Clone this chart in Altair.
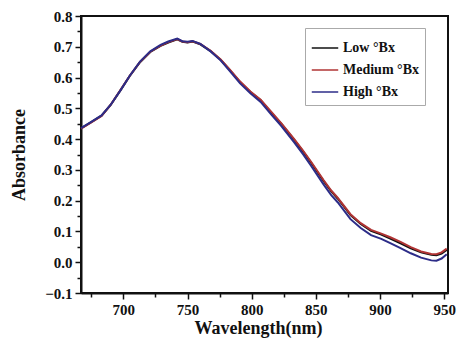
import altair as alt
import pandas as pd

wavelength = [667, 675, 683, 690, 698, 705, 713, 721, 729, 735, 742, 746, 750, 754, 760, 768,
              776, 783, 791, 799, 807, 815, 823, 833, 840, 846, 856, 862, 867, 877, 885, 893,
              901, 908, 916, 924, 932, 940, 944, 948, 952]
low = [0.435, 0.455, 0.476, 0.51, 0.56, 0.605, 0.65, 0.683, 0.703, 0.714, 0.724, 0.716, 0.714,
       0.717, 0.708, 0.686, 0.657, 0.624, 0.585, 0.553, 0.526, 0.487, 0.45, 0.398, 0.36, 0.325,
       0.264, 0.23, 0.207, 0.153, 0.124, 0.102, 0.09, 0.077, 0.061, 0.045, 0.032, 0.024, 0.023,
       0.028, 0.04]
medium = [0.434, 0.454, 0.475, 0.511, 0.561, 0.606, 0.651, 0.684, 0.704, 0.715, 0.725, 0.717,
          0.715, 0.718, 0.709, 0.687, 0.658, 0.626, 0.587, 0.555, 0.528, 0.49, 0.452, 0.401,
          0.363, 0.328, 0.267, 0.233, 0.21, 0.156, 0.127, 0.105, 0.093, 0.081, 0.066, 0.049,
          0.035, 0.027, 0.026, 0.032, 0.044]
high = [0.436, 0.456, 0.477, 0.511, 0.56, 0.606, 0.652, 0.685, 0.706, 0.717, 0.727, 0.718, 0.716,
        0.719, 0.709, 0.685, 0.655, 0.621, 0.581, 0.549, 0.521, 0.481, 0.443, 0.39, 0.351, 0.315,
        0.253, 0.218, 0.195, 0.14, 0.111, 0.088, 0.076, 0.062, 0.046, 0.029, 0.015, 0.006, 0.005,
        0.012, 0.026]

series_names = ["Low \u00b0Bx", "Medium \u00b0Bx", "High \u00b0Bx"]
series_colors = ["#111111", "#b03434", "#2c2c88"]
x_ticks = [675, 700, 725, 750, 775, 800, 825, 850, 875, 900, 925, 950]
y_ticks = [-0.1, -0.05, 0.0, 0.05, 0.1, 0.15, 0.2, 0.25, 0.3, 0.35, 0.4, 0.45, 0.5, 0.55,
           0.6, 0.65, 0.7, 0.75, 0.8]

rows = []
for name, vals in zip(series_names, [low, medium, high]):
    for i, (w, v) in enumerate(zip(wavelength, vals)):
        rows.append({"wl": w, "abs": v, "series": name, "order": i})
df = pd.DataFrame(rows)

FONT = "Liberation Serif"
ymajor = "abs(datum.value*10 - round(datum.value*10)) < 0.01"
xmajor = "datum.value % 50 == 0"

chart = alt.Chart(df).mark_line(strokeWidth=2).encode(
    x=alt.X("wl:Q", scale=alt.Scale(domain=[667, 953], nice=False, zero=False),
            axis=alt.Axis(title="Wavelength(nm)", values=x_ticks,
                          labelExpr=f"{xmajor} ? datum.value : ''",
                          tickSize={"condition": {"test": xmajor, "value": 6}, "value": 4},
                          titleX=177, titleY=40, titleBaseline="alphabetic")),
    y=alt.Y("abs:Q", scale=alt.Scale(domain=[-0.1, 0.8], nice=False, zero=False),
            axis=alt.Axis(title="Absorbance", values=y_ticks,
                          labelExpr=f"{ymajor} ? format(datum.value, '.1f') : ''",
                          tickSize={"condition": {"test": ymajor, "value": 6}, "value": 4},
                          titlePadding=16)),
    color=alt.Color("series:N", sort=series_names,
                    scale=alt.Scale(domain=series_names, range=series_colors),
                    legend=alt.Legend(title=None, orient="none", legendX=224, legendY=12,
                                      symbolType="stroke", symbolSize=700, symbolStrokeWidth=1.5,
                                      strokeColor="#aaaaaa", padding=6, rowPadding=1,
                                      labelFont=FONT, labelFontWeight="bold", labelFontSize=14,
                                      labelColor="#111111", fillColor="white")),
    detail="series:N",
    order="order:Q",
).properties(
    width=367, height=277,
    autosize=alt.AutoSizeParams(type="none"),
    padding={"left": 81, "top": 16, "right": 11, "bottom": 47},
).configure_view(
    stroke="#111111", strokeWidth=2
).configure_axis(
    domainColor="#111111", domainWidth=2, tickColor="#111111", tickWidth=1.5,
    grid=False, labelFont=FONT, labelFontWeight="bold", labelFontSize=15, labelColor="#111111",
    titleFont=FONT, titleFontWeight="bold", titleFontSize=18, titleColor="#111111",
    labelPadding=3,
)

chart.save("out.html", embed_options={"renderer": "svg", "actions": False})
